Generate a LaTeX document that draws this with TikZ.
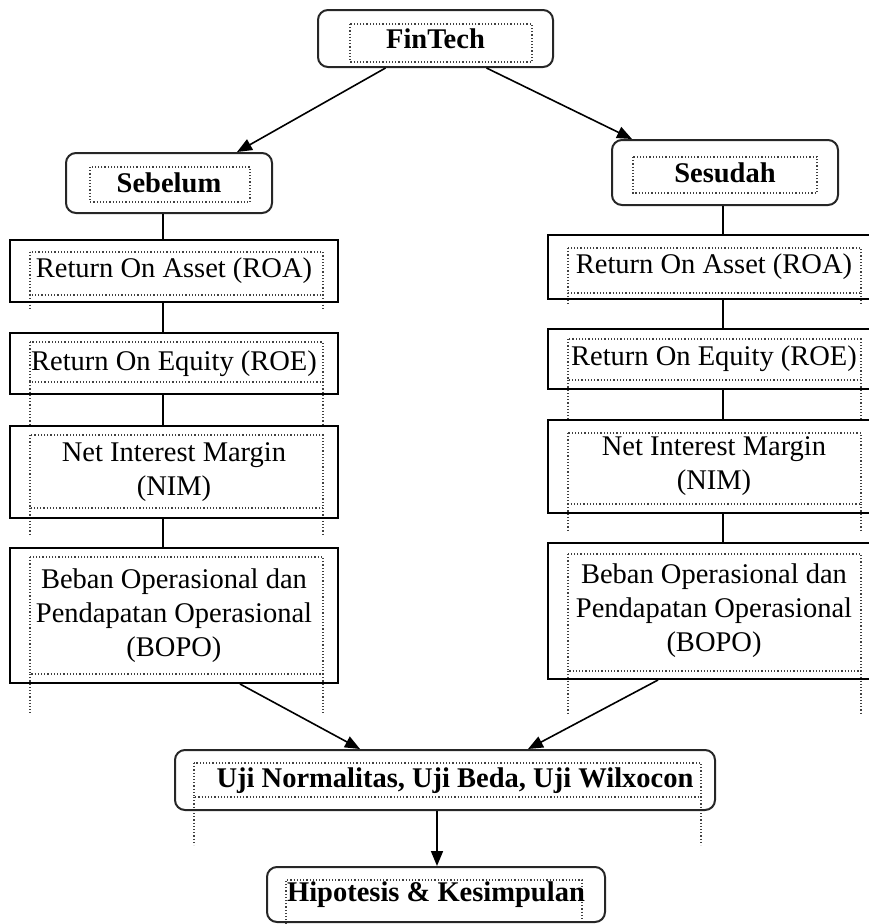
\documentclass[tikz,border=0pt]{standalone}
\usepackage{fontspec}
\setmainfont{Liberation Serif}
\usetikzlibrary{arrows.meta,calc}
\begin{document}
\begin{tikzpicture}[x=1pt,y=-1pt,
 rbox/.style={draw=black!85, line width=2pt, rounded corners=10pt, inner sep=0pt, font=\bfseries\fontsize{28.5}{34}\selectfont, align=center},
 sbox/.style={draw=black, line width=2pt, inner sep=0pt, font=\fontsize{28.5}{34}\selectfont, align=center},
 lbl/.style={inner sep=0pt, font=\bfseries\fontsize{28.5}{34}\selectfont},
 frame/.style={draw=black!75, line width=1.2pt, dotted},
 link/.style={draw=black, line width=1.6pt},
 arr/.style={link, -{Triangle[length=15pt,width=12pt]}}]
\useasboundingbox (0,0) rectangle (869,924);

% dotted text frames
\draw[frame] (350,24) rectangle (532,62);
\draw[frame] (90,167) rectangle (250,202);
\draw[frame] (633,157) rectangle (817,193);
\draw[frame] (30,252) rectangle (323,295);
\draw[frame] (30,295) -- (30,310) (323,295) -- (323,310);
\draw[frame] (30,342) rectangle (323,382);
\draw[frame] (30,382) -- (30,425) (323,382) -- (323,425);
\draw[frame] (30,435) rectangle (323,508);
\draw[frame] (30,508) -- (30,535) (323,508) -- (323,535);
\draw[frame] (30,557) rectangle (323,674);
\draw[frame] (30,674) -- (30,713) (323,674) -- (323,713);
\draw[frame] (568,248) rectangle (861,293);
\draw[frame] (568,293) -- (568,305) (861,293) -- (861,305);
\draw[frame] (568,339) rectangle (861,380);
\draw[frame] (568,380) -- (568,419) (861,380) -- (861,419);
\draw[frame] (568,433) rectangle (861,504);
\draw[frame] (568,504) -- (568,532) (861,504) -- (861,532);
\draw[frame] (568,554) rectangle (861,671);
\draw[frame] (568,671) -- (568,715) (861,671) -- (861,715);
\draw[frame] (194,763) rectangle (701,797);
\draw[frame] (194,797) -- (194,845) (701,797) -- (701,845);
\draw[frame] (286,930) -- (286,880) -- (582,880) -- (582,930);

% boxes
\node[rbox, minimum width=235pt, minimum height=57pt] (fin) at (435.5,38.5) {FinTech};
\node[rbox, minimum width=206pt, minimum height=60pt] (seb) at (169,183) {Sebelum};
\node[rbox, minimum width=226pt, minimum height=65pt] (ses) at (725,172.5) {Sesudah};

\node[sbox, minimum width=328pt, minimum height=62pt] (lroa) at (174,271) {Return On Asset (ROA)};
\node[sbox, minimum width=328pt, minimum height=61pt] (lroe) at (174,363.5) {Return On Equity (ROE)};
\node[sbox, minimum width=328pt, minimum height=92pt] (lnim) at (174,472) {Net Interest Margin\\(NIM)};
\node[sbox, minimum width=328pt, minimum height=135pt] (lbopo) at (174,615.5) {Beban Operasional dan\\Pendapatan Operasional\\(BOPO)};

\node[sbox, minimum width=332pt, minimum height=64pt] (rroa) at (714,267) {Return On Asset (ROA)};
\node[sbox, minimum width=332pt, minimum height=60pt] (rroe) at (714,359) {Return On Equity (ROE)};
\node[sbox, minimum width=332pt, minimum height=93pt] (rnim) at (714,466.5) {Net Interest Margin\\(NIM)};
\node[sbox, minimum width=332pt, minimum height=136pt] (rbopo) at (714,611) {Beban Operasional dan\\Pendapatan Operasional\\(BOPO)};

\node[rbox, minimum width=540pt, minimum height=60pt] (uji) at (445,780) {};
\node[lbl] (ujit) at (455,781) {Uji Normalitas, Uji Beda, Uji Wilxocon};
\node[rbox, minimum width=338pt, minimum height=55pt] (hip) at (436,894.5) {Hipotesis \& Kesimpulan};

% connectors
\draw[arr] ([xshift=-50pt]fin.south) -- ([xshift=68pt]seb.north);
\draw[arr] ([xshift=51pt]fin.south) -- ([xshift=-93pt]ses.north);

\draw[link] ([xshift=-6pt]seb.south) -- ([xshift=-11pt]lroa.north);
\draw[link] ([xshift=-11pt]lroa.south) -- ([xshift=-11pt]lroe.north);
\draw[link] ([xshift=-11pt]lroe.south) -- ([xshift=-11pt]lnim.north);
\draw[link] ([xshift=-11pt]lnim.south) -- ([xshift=-11pt]lbopo.north);

\draw[link] ([xshift=-2pt]ses.south) -- ([xshift=9pt]rroa.north);
\draw[link] ([xshift=9pt]rroa.south) -- ([xshift=9pt]rroe.north);
\draw[link] ([xshift=9pt]rroe.south) -- ([xshift=9pt]rnim.north);
\draw[link] ([xshift=9pt]rnim.south) -- ([xshift=9pt]rbopo.north);

\draw[arr] ([xshift=66pt]lbopo.south) -- ([xshift=-85pt]uji.north);
\draw[arr] ([xshift=-56pt]rbopo.south) -- ([xshift=83pt]uji.north);
\draw[arr] ([xshift=-8pt]uji.south) -- ([xshift=1pt]hip.north);
\end{tikzpicture}
\end{document}
